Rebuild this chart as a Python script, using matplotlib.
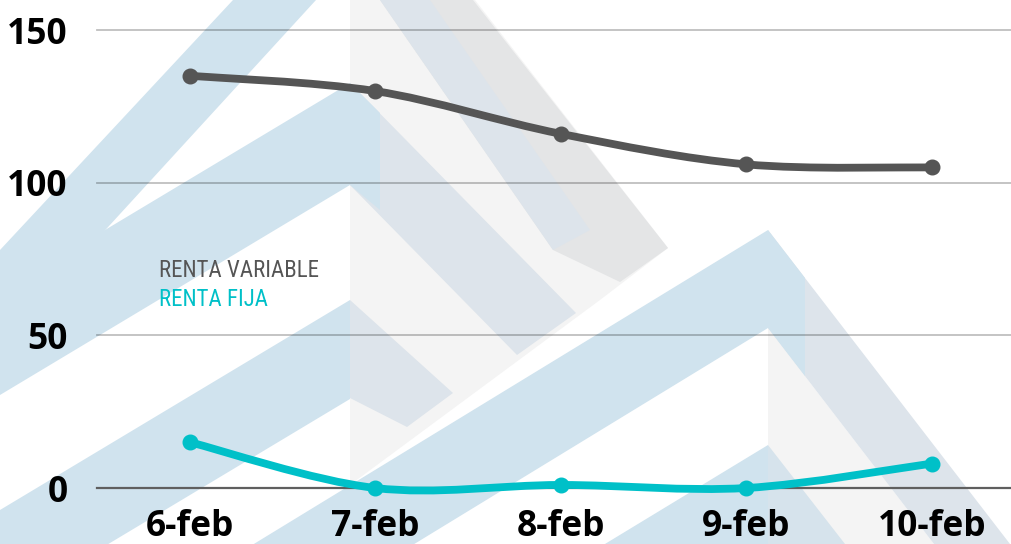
import matplotlib
matplotlib.use("Agg")
import matplotlib.pyplot as plt
from matplotlib.path import Path
from matplotlib.patches import PathPatch, Polygon

# ---------------- data ----------------
categories = ["6-feb", "7-feb", "8-feb", "9-feb", "10-feb"]
renta_variable = [135, 130, 116, 106, 105]
renta_fija = [15, 0, 1, 0, 8]
y_ticks = [0, 50, 100, 150]
series_names = ["RENTA VARIABLE", "RENTA FIJA"]

# ---------------- style ----------------
W, H = 1011, 544
DPI = 100
col_var = "#555555"
col_fija = "#00c0c8"
blue = "#d0e3ee"
greyblue = "#dde4eb"
lightgrey = "#f4f4f4"
midgrey = "#e4e5e6"

fig = plt.figure(figsize=(W / DPI, H / DPI), dpi=DPI)
fig.patch.set_facecolor("white")

# background axes for the decorative watermark
bg = fig.add_axes([0, 0, 1, 1], zorder=0)
bg.set_xlim(0, W)
bg.set_ylim(H, 0)
bg.axis("off")


def wm(pts, color):
    bg.add_patch(Polygon(pts, closed=True, facecolor=color, edgecolor="none"))


wm([(350, 0), (475, 0), (668, 248), (600, 300), (350, 485)], lightgrey)
wm([(768, 328), (934, 544), (768, 544)], lightgrey)
wm([(233, 0), (316, 0), (0, 345), (0, 250)], blue)
wm([(350, 83), (350, 185), (0, 395), (0, 293)], blue)
wm([(350, 300), (350, 399), (0, 609), (0, 510)], blue)
wm([(380, 0), (473, 0), (668, 248), (620, 282), (553, 250)], midgrey)
wm([(380, 0), (430, 0), (590, 230), (553, 250)], greyblue)
wm([(350, 83), (576, 313), (517, 355), (350, 185)], greyblue)
wm([(350, 83), (380, 113), (380, 210), (350, 185)], blue)
wm([(350, 300), (453, 393), (407, 427), (350, 398)], greyblue)
wm([(768, 230), (768, 328), (0, 797), (0, 699)], blue)
wm([(768, 230), (1010, 544), (934, 544), (768, 328)], greyblue)
wm([(768, 230), (805, 278), (805, 376), (768, 328)], blue)
wm([(768, 445), (768, 544), (600, 547)], blue)
wm([(768, 445), (845, 544), (768, 544)], "#d6e3ec")

# ---------------- main axes ----------------
ax = fig.add_axes([97 / W, (H - 488) / H, 927.5 / W, 458 / H], zorder=2)
ax.set_facecolor("none")
x = list(range(len(categories)))
ax.set_xlim(-0.5, len(categories) - 0.5)
ax.set_ylim(0, 150)
for s in ax.spines.values():
    s.set_visible(False)

for v in y_ticks:
    if v == 0:
        ax.axhline(v, color="#5f5f5f", lw=1.6, zorder=1, clip_on=False)
    else:
        ax.axhline(v, color="black", alpha=0.25, lw=1.3, zorder=1, clip_on=False)

ax.set_yticks(y_ticks)
ax.set_yticklabels([str(v) for v in y_ticks])
ax.set_xticks(x)
ax.set_xticklabels(categories)
ax.tick_params(axis="both", length=0)
ax.tick_params(axis="y", pad=21)
ax.tick_params(axis="x", pad=15)
for lab in ax.get_yticklabels() + ax.get_xticklabels():
    lab.set_fontfamily(["Open Sans", "DejaVu Sans"])
    lab.set_fontweight("bold")
    lab.set_fontsize(25.5)
    lab.set_color("black")


def smooth_path(xs, ys):
    pts = list(zip(xs, ys))
    n = len(pts)
    verts = [pts[0]]
    codes = [Path.MOVETO]
    for i in range(n - 1):
        p0 = pts[i - 1] if i > 0 else pts[i]
        p1 = pts[i]
        p2 = pts[i + 1]
        p3 = pts[i + 2] if i + 2 < n else pts[i + 1]
        c1 = (p1[0] + (p2[0] - p0[0]) / 6, p1[1] + (p2[1] - p0[1]) / 6)
        c2 = (p2[0] - (p3[0] - p1[0]) / 6, p2[1] - (p3[1] - p1[1]) / 6)
        verts += [c1, c2, p2]
        codes += [Path.CURVE4] * 3
    return Path(verts, codes)


for ys, c in [(renta_variable, col_var), (renta_fija, col_fija)]:
    patch = PathPatch(smooth_path(x, ys), facecolor="none", edgecolor=c, lw=5.6,
                      capstyle="round", joinstyle="round", transform=ax.transData,
                      zorder=3, clip_on=False)
    ax.add_patch(patch)
    ax.plot(x, ys, "o", color=c, ms=10.5, zorder=4, clip_on=False)

# legend as coloured text labels
fam = ["Liberation Sans Narrow", "Roboto Condensed", "DejaVu Sans"]
fig.text(159 / W, 1 - 277 / H, series_names[0], color=col_var, fontsize=16.5,
         family=fam, fontstretch="condensed", ha="left", va="baseline", zorder=5)
fig.text(159 / W, 1 - 306 / H, series_names[1], color=col_fija, fontsize=16.5,
         family=fam, fontstretch="condensed", ha="left", va="baseline", zorder=5)

fig.savefig("out.png", dpi=DPI, facecolor="white")
